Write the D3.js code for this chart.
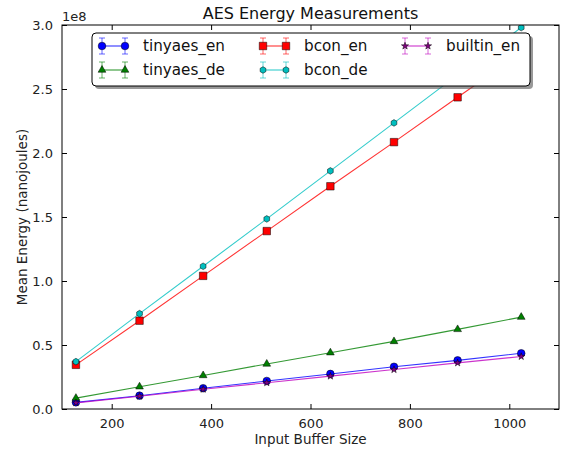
<!DOCTYPE html>
<html>
<head>
<meta charset="utf-8">
<script src="https://cdn.jsdelivr.net/npm/d3@7"></script>
<style>
  body { margin: 0; background: #fff; }
  text { font-family: "DejaVu Sans", sans-serif; }
</style>
</head>
<body>
<svg id="chart" width="563" height="451"></svg>
<script>
// Data (energy in units of 1e8 nanojoules)
const bufferSizes = [128, 256, 384, 512, 640, 768, 896, 1024];
const tinyaesEn = [0.052, 0.104, 0.162, 0.219, 0.274, 0.33, 0.38, 0.435];
const tinyaesDe = [0.085, 0.174, 0.262, 0.352, 0.44, 0.528, 0.622, 0.718];
const bconEn = [0.345, 0.69, 1.04, 1.39, 1.74, 2.085, 2.435, 2.78];
const bconDe = [0.37, 0.745, 1.115, 1.485, 1.86, 2.235, 2.61, 2.98];
const builtinEn = [0.048, 0.1, 0.154, 0.205, 0.257, 0.308, 0.36, 0.41];
const xTicks = [200, 400, 600, 800, 1000];
const yTicks = [0, 0.5, 1.0, 1.5, 2.0, 2.5, 3.0];

const series = [
  { name: "tinyaes_en", values: tinyaesEn, color: "#0000ff", marker: "circle" },
  { name: "tinyaes_de", values: tinyaesDe, color: "#008000", marker: "triangle" },
  { name: "bcon_en", values: bconEn, color: "#ff0000", marker: "square" },
  { name: "bcon_de", values: bconDe, color: "#00bfbf", marker: "hexagon" },
  { name: "builtin_en", values: builtinEn, color: "#bf00bf", marker: "star" }
];

const margin = { left: 62, right: 4, top: 25, bottom: 42 };
const width = 563, height = 451;
const svg = d3.select("#chart");

const x = d3.scaleLinear().domain([100, 1100]).range([margin.left, width - margin.right]);
const y = d3.scaleLinear().domain([0, 3]).range([height - margin.bottom, margin.top]);

const plot = svg.append("g");

// clip
svg.append("clipPath").attr("id", "clip").append("rect")
  .attr("x", x.range()[0]).attr("y", y.range()[1])
  .attr("width", x.range()[1] - x.range()[0]).attr("height", y.range()[0] - y.range()[1]);

const symbols = {
  circle: d3.symbol().type(d3.symbolCircle).size(46),
  triangle: d3.symbol().type(d3.symbolTriangle).size(26),
  square: d3.symbol().type(d3.symbolSquare).size(56),
  star: d3.symbol().type(d3.symbolStar).size(16)
};
function hexPath(r) {
  const pts = d3.range(6).map(i => {
    const a = Math.PI / 6 + i * Math.PI / 3;
    return [r * Math.cos(a), r * Math.sin(a)];
  });
  return "M" + pts.join("L") + "Z";
}
function markerPath(m) {
  return m === "hexagon" ? hexPath(3.3) : symbols[m]();
}
function markerFill(s) {
  return s.marker === "star" ? "#800080" : s.color;
}

const line = d3.line().x((d, i) => x(bufferSizes[i])).y(d => y(d));

const dataLayer = plot.append("g").attr("clip-path", "url(#clip)");
series.forEach(s => {
  dataLayer.append("path")
    .attr("d", line(s.values))
    .attr("fill", "none")
    .attr("stroke", s.color)
    .attr("stroke-opacity", 0.8)
    .attr("stroke-width", 1.1);
  dataLayer.selectAll(null).data(s.values).enter().append("path")
    .attr("d", markerPath(s.marker))
    .attr("transform", (d, i) => `translate(${x(bufferSizes[i])},${y(d)})`)
    .attr("fill", markerFill(s))
    .attr("stroke", "#000")
    .attr("stroke-width", 0.5);
});

// axes (ticks inward, mirrored)
const x0 = x.range()[0], x1 = x.range()[1], y0 = y.range()[0], y1 = y.range()[1];
const axisG = svg.append("g");
axisG.append("g").attr("transform", `translate(0,${y0})`)
  .call(d3.axisBottom(x).tickValues(xTicks).tickSizeInner(-5).tickSizeOuter(0).tickPadding(10).tickFormat(d3.format("d")));
axisG.append("g").attr("transform", `translate(0,${y1})`)
  .call(d3.axisTop(x).tickValues(xTicks).tickSizeInner(-5).tickSizeOuter(0).tickFormat(""));
axisG.append("g").attr("transform", `translate(${x0},0)`)
  .call(d3.axisLeft(y).tickValues(yTicks).tickSizeInner(-5).tickSizeOuter(0).tickPadding(9).tickFormat(d3.format(".1f")));
axisG.append("g").attr("transform", `translate(${x1},0)`)
  .call(d3.axisRight(y).tickValues(yTicks).tickSizeInner(-5).tickSizeOuter(0).tickFormat(""));
axisG.selectAll(".domain").remove();
axisG.selectAll("line").attr("stroke", "#000");
axisG.selectAll("text").attr("font-size", 13).attr("fill", "#222")
  .attr("font-family", "DejaVu Sans, sans-serif");

svg.append("rect").attr("x", x0).attr("y", y1).attr("width", x1 - x0).attr("height", y0 - y1)
  .attr("fill", "none").attr("stroke", "#000").attr("stroke-width", 1);

// labels
svg.append("text").attr("x", (x0 + x1) / 2).attr("y", 19).attr("text-anchor", "middle")
  .attr("font-size", 16).attr("fill", "#111").text("AES Energy Measurements");
svg.append("text").attr("x", x0).attr("y", 21).attr("font-size", 13).attr("fill", "#222").text("1e8");
svg.append("text").attr("x", (x0 + x1) / 2).attr("y", 444).attr("text-anchor", "middle")
  .attr("font-size", 13.5).attr("fill", "#222").text("Input Buffer Size");
svg.append("text").attr("transform", `translate(27,${(y0 + y1) / 2}) rotate(-90)`)
  .attr("text-anchor", "middle").attr("font-size", 13.5).attr("fill", "#222").text("Mean Energy (nanojoules)");

// legend
const lg = svg.append("g");
const lx = 92, ly = 33, lw = 438, lh = 53;
lg.append("rect").attr("x", lx + 3).attr("y", ly + 3).attr("width", lw).attr("height", lh)
  .attr("rx", 4).attr("fill", "#555").attr("opacity", 0.6);
lg.append("rect").attr("x", lx).attr("y", ly).attr("width", lw).attr("height", lh)
  .attr("rx", 4).attr("fill", "#fff").attr("stroke", "#000").attr("stroke-width", 1);
const colX = [101, 262, 404];
const rowY = [46, 70];
series.forEach((s, i) => {
  const col = Math.floor(i / 2), row = i % 2;
  const hx = colX[col], hy = rowY[row];
  const g = lg.append("g");
  g.append("line").attr("x1", hx + 1).attr("x2", hx + 24).attr("y1", hy).attr("y2", hy)
    .attr("stroke", s.color).attr("stroke-opacity", 0.8).attr("stroke-width", 1.1);
  [hx + 1, hx + 24].forEach(px => {
    g.append("line").attr("x1", px).attr("x2", px).attr("y1", hy - 8).attr("y2", hy + 8)
      .attr("stroke", s.color).attr("stroke-opacity", 0.6);
    [hy - 8, hy + 8].forEach(py => g.append("line").attr("x1", px - 3).attr("x2", px + 3)
      .attr("y1", py).attr("y2", py).attr("stroke", s.color).attr("stroke-opacity", 0.6));
    g.append("path").attr("d", markerPath(s.marker)).attr("transform", `translate(${px},${hy})`)
      .attr("fill", markerFill(s)).attr("stroke", "#000").attr("stroke-width", 0.5);
  });
  g.append("text").attr("x", hx + 42).attr("y", hy + 5).attr("font-size", 15.2).attr("fill", "#111").text(s.name);
});
</script>
</body>
</html>
